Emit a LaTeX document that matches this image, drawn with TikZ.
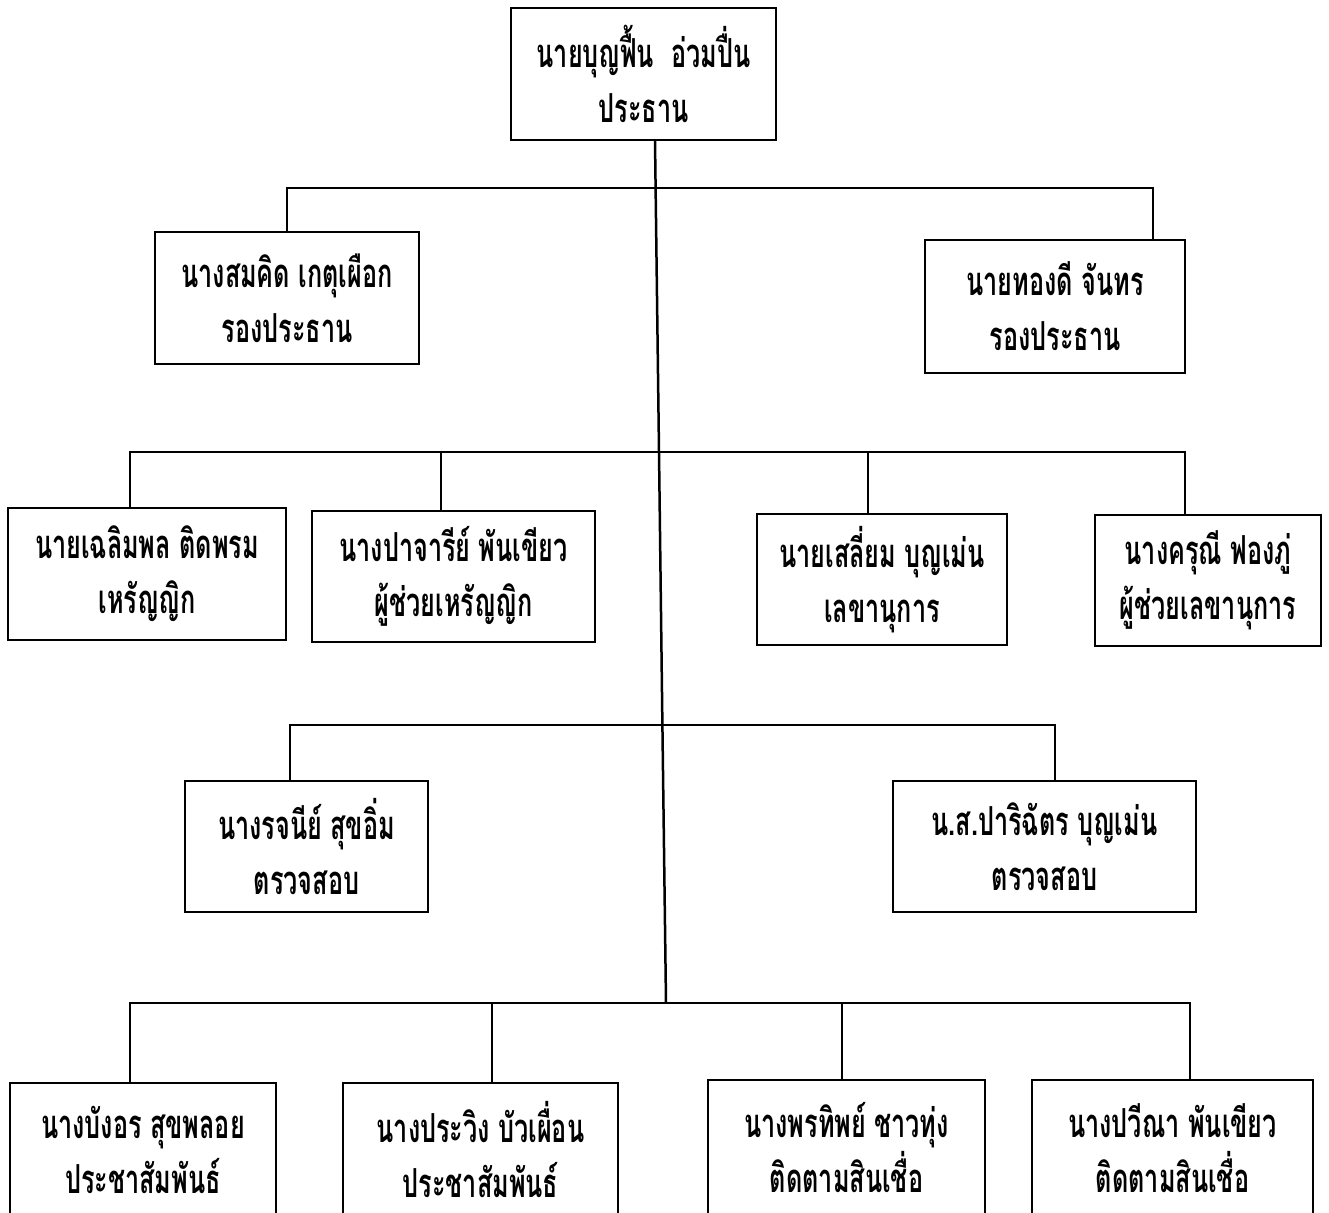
\documentclass[tikz,border=0pt]{standalone}
\usepackage{fontspec}
\newfontfamily\thaifont[Script=Thai,FakeStretch=0.63]{Loma}
\tikzset{
  box/.style={draw, line width=2.5pt, rectangle, inner sep=0pt, align=center,
    font=\thaifont\bfseries\fontsize{40}{55}\selectfont},
  link/.style={line width=2.5pt, line join=miter}
}
\begin{document}
\begin{tikzpicture}[x=1pt,y=-1pt]
\useasboundingbox (0,0) rectangle (1329,1212);
% boxes
\node[box, minimum width=265pt, minimum height=132pt] (top) at (643.5,74) {นายบุญฟื้น\ \ อ่วมปื่น\\ประธาน};
\node[box, minimum width=264pt, minimum height=132pt] (b1L) at (287,298) {นางสมคิด เกตุเผือก\\รองประธาน};
\node[box, minimum width=260pt, minimum height=133pt] (b1R) at (1055,306.5) {นายทองดี จันทร\\รองประธาน};
\node[box, minimum width=278pt, minimum height=132pt] (b2a) at (147,574) {นายเฉลิมพล ติดพรม\\เหรัญญิก};
\node[box, minimum width=283pt, minimum height=131pt] (b2b) at (453.5,576.5) {นางปาจารีย์ พันเขียว\\ผู้ช่วยเหรัญญิก};
\node[box, minimum width=250pt, minimum height=131pt] (b2c) at (882,579.5) {นายเสลี่ยม บุญเม่น\\เลขานุการ};
\node[box, minimum width=226pt, minimum height=131pt] (b2d) at (1208,580.5) {นางครุณี ฟองภู่\\ผู้ช่วยเลขานุการ};
\node[box, minimum width=243pt, minimum height=131pt] (b3a) at (306.5,846.5) {นางรจนีย์ สุขอิ่ม\\ตรวจสอบ};
\node[box, minimum width=303pt, minimum height=131pt] (b3b) at (1044.5,846.5) {น.ส.ปาริฉัตร บุญเม่น\\ตรวจสอบ};
\node[box, minimum width=266pt, minimum height=134pt] (b4a) at (143,1150) {นางบังอร สุขพลอย\\ประชาสัมพันธ์};
\node[box, minimum width=275pt, minimum height=134pt] (b4b) at (480.5,1150) {นางประวิง บัวเผื่อน\\ประชาสัมพันธ์};
\node[box, minimum width=277pt, minimum height=136pt] (b4c) at (846.5,1148) {นางพรทิพย์ ชาวทุ่ง\\ติดตามสินเชื่อ};
\node[box, minimum width=281pt, minimum height=136pt] (b4d) at (1172.5,1148) {นางปวีณา พันเขียว\\ติดตามสินเชื่อ};
% junction coordinates
\coordinate (trunk0) at (655,140);
\coordinate (j1) at (655.6,188);
\coordinate (j2) at (659,452);
\coordinate (j3) at (662.4,725);
\coordinate (j4) at (666,1003);
\coordinate (r1a) at (287,188);
\coordinate (r1b) at (1153,188);
\coordinate (r2a) at (130,452);
\coordinate (r2b) at (441,452);
\coordinate (r2c) at (868,452);
\coordinate (r2d) at (1185,452);
\coordinate (r3a) at (290,725);
\coordinate (r3b) at (1055,725);
\coordinate (r4a) at (130,1003);
\coordinate (r4b) at (492,1003);
\coordinate (r4c) at (842,1003);
\coordinate (r4d) at (1190,1003);
% trunk
\draw[link] (trunk0) -- (j1) -- (j2) -- (j3) -- (j4);
% row 1
\draw[link] (r1a |- b1L.north) -- (r1a) -- (r1b) -- (r1b |- b1R.north);
% row 2
\draw[link] (r2a |- b2a.north) -- (r2a) -- (r2d) -- (r2d |- b2d.north);
\draw[link] (r2b) -- (r2b |- b2b.north);
\draw[link] (r2c) -- (r2c |- b2c.north);
% row 3
\draw[link] (r3a |- b3a.north) -- (r3a) -- (r3b) -- (r3b |- b3b.north);
% row 4
\draw[link] (r4a |- b4a.north) -- (r4a) -- (r4d) -- (r4d |- b4d.north);
\draw[link] (r4b) -- (r4b |- b4b.north);
\draw[link] (r4c) -- (r4c |- b4c.north);
\end{tikzpicture}
\end{document}
